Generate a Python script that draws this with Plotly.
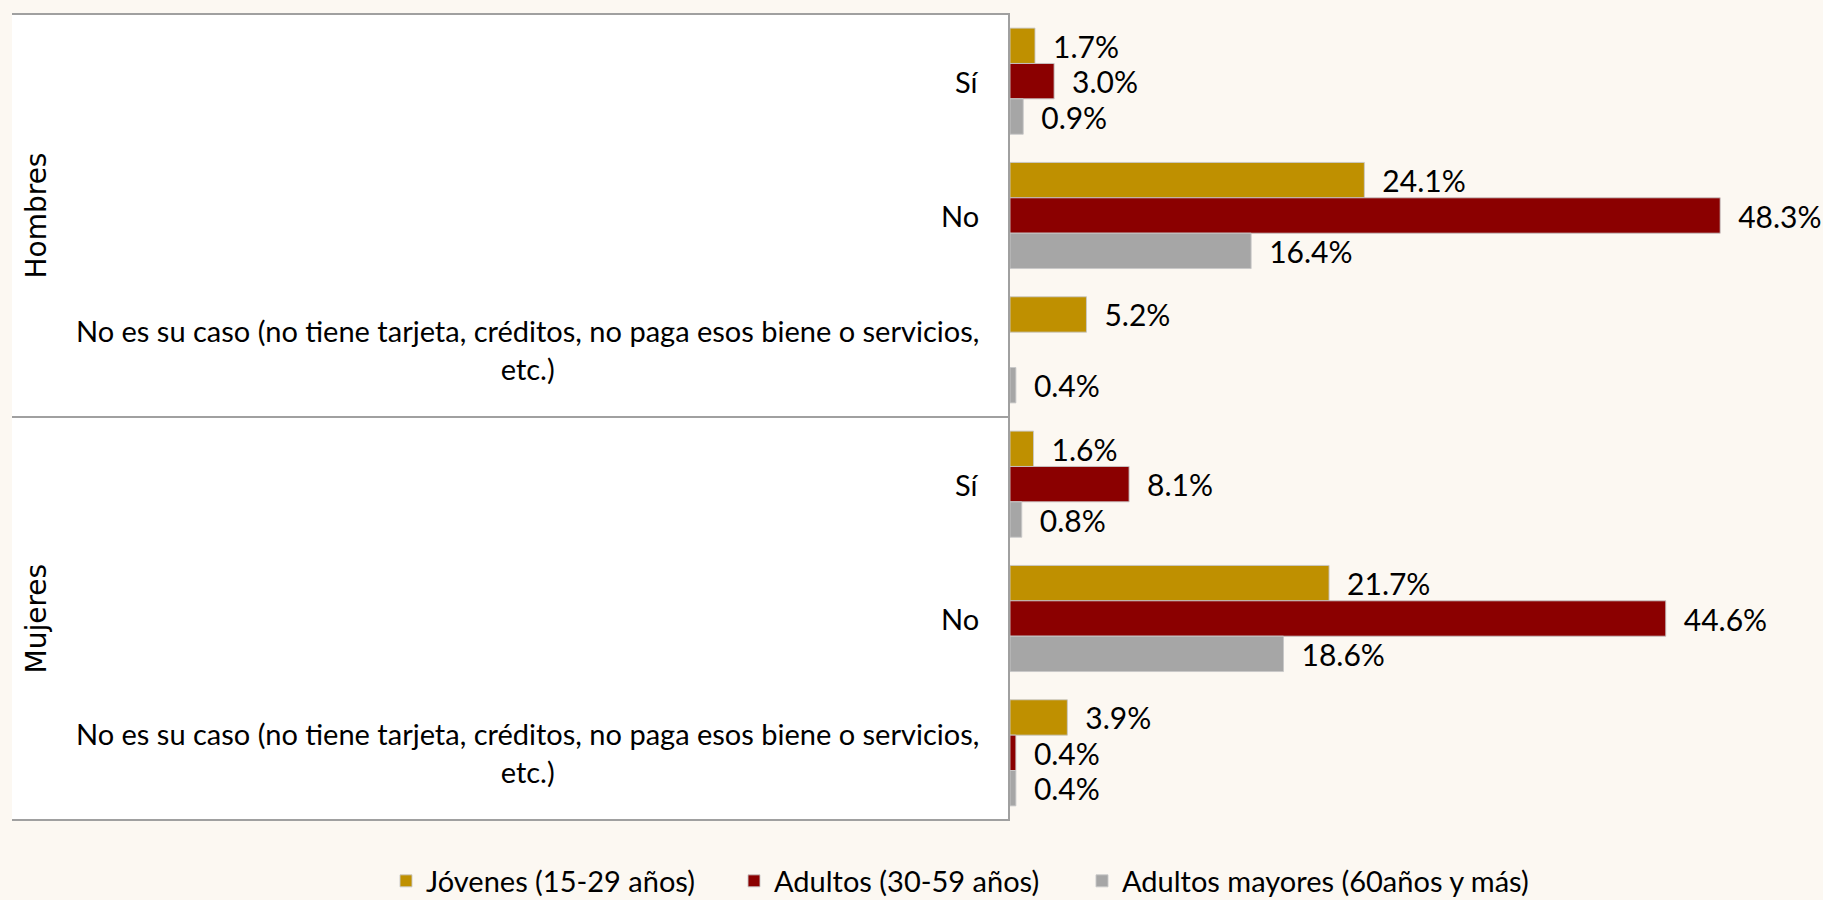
import plotly.graph_objects as go

groups = ["Hombres", "Mujeres"]
responses = ["Sí", "No", "No es su caso (no tiene tarjeta, créditos, no paga esos biene o servicios,<br>etc.)"]
series_names = ["Jóvenes (15-29 años)", "Adultos (30-59 años)", "Adultos mayores (60años y más)"]
series_colors = ["#BF9000", "#8B0000", "#A6A6A6"]

jovenes = [1.7, 24.1, 5.2, 1.6, 21.7, 3.9]
adultos = [3.0, 48.3, None, 8.1, 44.6, 0.4]
mayores = [0.9, 16.4, 0.4, 0.8, 18.6, 0.4]

categories = [f"{g}|{r}" for g in groups for r in responses]
series_values = [jovenes, adultos, mayores]

W, H = 1823, 900
ML, MR, MT, MB = 1010, 19, 13, 79
FONT = "Lato, Roboto, sans-serif"
legend_ids = ["legend", "legend2", "legend3"]
legend_left_px = [386, 734, 1082]

fig = go.Figure()
for name, color, vals, lid in zip(series_names, series_colors, series_values, legend_ids):
    fig.add_trace(go.Bar(
        name=name,
        y=categories,
        x=vals,
        orientation="h",
        legend=lid,
        marker=dict(color=color, line=dict(color="rgba(200,200,200,0.9)", width=1)),
        text=["\u2002" + f"{v:.1f}%" if v is not None else "" for v in vals],
        textposition="outside",
        textfont=dict(family=FONT, size=30, color="#000000"),
        constraintext="none",
        cliponaxis=False,
        hoverinfo="skip",
    ))

plot_w = W - ML - MR
plot_h = H - MT - MB
left_box = (12 - ML) / plot_w

shapes = [
    dict(type="rect", xref="paper", yref="paper", x0=left_box, x1=0, y0=0, y1=1,
         fillcolor="#FFFFFF", line=dict(width=0), layer="below"),
]
for yb in [-0.5, 2.5, 5.5]:
    shapes.append(dict(type="line", xref="paper", yref="y", x0=left_box, x1=0, y0=yb, y1=yb,
                       line=dict(color="#A0A0A0", width=2)))

annotations = []
for cat in categories:
    g, r = cat.split("|")
    annotations.append(dict(xref="paper", yref="y", x=0, y=cat, xshift=-29,
                            xanchor="right", yanchor="middle", align="center",
                            text=r, showarrow=False,
                            font=dict(family=FONT, size=29, color="#000000")))
for gi, g in enumerate(groups):
    annotations.append(dict(xref="paper", yref="y", x=(36 - ML) / plot_w, y=gi * 3 + 1,
                            xanchor="center", yanchor="middle", textangle=-90,
                            text=g, showarrow=False,
                            font=dict(family="DejaVu Sans, Verdana, sans-serif", size=28, color="#000000")))

legend_common = dict(orientation="h", xref="paper", yref="paper",
                     y=-(881 - (H - MB)) / plot_h, xanchor="left", yanchor="middle",
                     font=dict(family=FONT, size=29, color="#000000"),
                     bgcolor="rgba(0,0,0,0)")

fig.update_layout(
    width=W, height=H,
    margin=dict(l=ML, r=MR, t=MT, b=MB, autoexpand=False),
    paper_bgcolor="#FCF8F2",
    plot_bgcolor="rgba(0,0,0,0)",
    barmode="group",
    bargap=0.21,
    bargroupgap=0,
    showlegend=True,
    legend=dict(x=(legend_left_px[0] - ML) / plot_w, **legend_common),
    legend2=dict(x=(legend_left_px[1] - ML) / plot_w, **legend_common),
    legend3=dict(x=(legend_left_px[2] - ML) / plot_w, **legend_common),
    xaxis=dict(range=[0, 54], visible=False, fixedrange=True),
    yaxis=dict(categoryorder="array", categoryarray=categories, autorange="reversed",
               showticklabels=False, ticks="", showgrid=False, zeroline=False,
               showline=True, linecolor="#A0A0A0", linewidth=2, fixedrange=True),
    shapes=shapes,
    annotations=annotations,
)

fig.write_html("out.html", config={"displayModeBar": False},
               post_script="document.body.style.margin='0';document.body.style.overflow='hidden';")
